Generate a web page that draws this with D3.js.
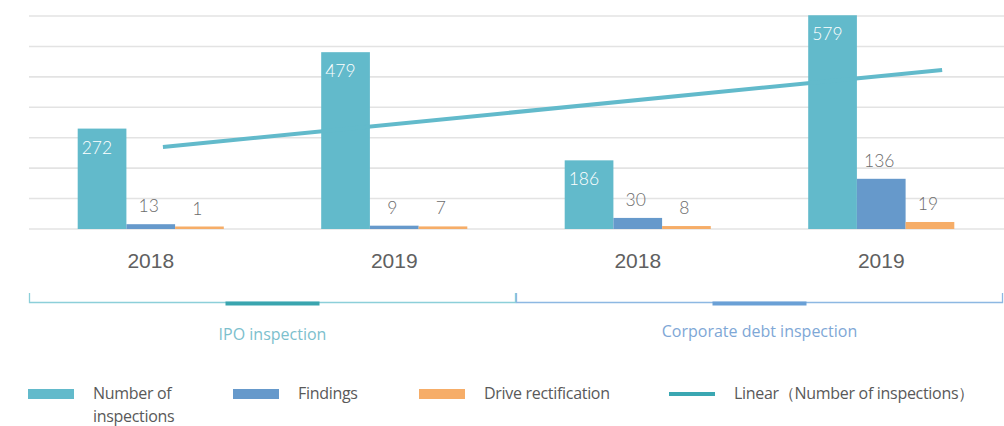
<!DOCTYPE html>
<html>
<head>
<meta charset="utf-8">
<script src="https://cdn.jsdelivr.net/npm/d3@7"></script>
<style>
  body { margin: 0; background: #fff; }
  svg { display: block; }
</style>
</head>
<body>
<script>
// chart values
const years = ['2018', '2019', '2018', '2019'];
const groupNames = ['IPO inspection', 'Corporate debt inspection'];
const groupOf = [0, 0, 1, 1];
const inspections = [272, 479, 186, 579];
const findings = [13, 9, 30, 136];
const rectification = [1, 7, 8, 19];
// trend line end points (category position, value)
const trendPos = [0.05, 3.25];
const trendVals = [222, 431];
const legendLabels = ['Number of|inspections', 'Findings', 'Drive rectification', 'Linear（Number of inspections）'];

const width = 1004, height = 426;
const colors = { ins: '#62bacb', fin: '#6699cb', rec: '#f6ad68' };

const svg = d3.select('body').append('svg')
  .attr('width', width)
  .attr('height', height);

const x = d3.scaleBand().domain(d3.range(years.length)).range([29, 1003]);
const xs = d3.scaleBand().domain(['ins', 'fin', 'rec']).range([0, x.bandwidth()]).paddingOuter(1);
const y = d3.scaleLinear().domain([0, 577]).range([229, 16]);

// gridlines
const gridTicks = d3.range(8).map(i => i * 577 / 7);
svg.append('g').selectAll('line')
  .data(gridTicks)
  .enter().append('line')
  .attr('x1', 29).attr('x2', width)
  .attr('y1', d => y(d)).attr('y2', d => y(d))
  .attr('stroke', '#e3e3e3')
  .attr('stroke-width', 1.6);

// bars (tiny values kept visible, as in the original)
const rows = years.map((yr, i) => ({ i, ins: inspections[i], fin: findings[i], rec: rectification[i] }));
const grp = svg.selectAll('g.cat')
  .data(rows)
  .enter().append('g')
  .attr('class', 'cat')
  .attr('transform', d => `translate(${x(d.i)},0)`);

const barH = v => Math.max(2.5, y(0) - y(v));

grp.selectAll('rect')
  .data(d => ['ins', 'fin', 'rec'].map(k => ({ k, v: d[k] })))
  .enter().append('rect')
  .attr('x', d => xs(d.k))
  .attr('width', xs.bandwidth())
  .attr('y', d => y(0) - barH(d.v))
  .attr('height', d => barH(d.v))
  .attr('fill', d => colors[d.k]);

// value labels
grp.selectAll('text.val')
  .data(d => ['ins', 'fin', 'rec'].map(k => ({ k, v: d[k] })))
  .enter().append('text')
  .attr('class', 'val')
  .attr('x', d => d.k === 'ins' ? xs(d.k) + 4 : xs(d.k) + xs.bandwidth() / 2 - 2)
  .attr('y', d => d.k === 'ins' ? y(d.v) + 25 : y(0) - barH(d.v) - 12)
  .attr('text-anchor', d => d.k === 'ins' ? 'start' : 'middle')
  .attr('fill', d => d.k === 'ins' ? '#ffffff' : '#6b6b6b')
  .style('font-family', 'Lato, "Open Sans", sans-serif')
  .style('font-weight', 300)
  .style('font-size', '17.5px')
  .text(d => d.v);

// trend line
const xt = d3.scaleLinear()
  .domain([0, years.length - 1])
  .range([x(0) + x.bandwidth() / 2, x(years.length - 1) + x.bandwidth() / 2]);
svg.append('line')
  .attr('x1', xt(trendPos[0])).attr('y1', y(trendVals[0]))
  .attr('x2', xt(trendPos[1])).attr('y2', y(trendVals[1]))
  .attr('stroke', '#62bacb')
  .attr('stroke-width', 4);

// year labels
svg.selectAll('text.year')
  .data(years)
  .enter().append('text')
  .attr('class', 'year')
  .attr('x', (d, i) => x(i) + x.bandwidth() / 2)
  .attr('y', 268)
  .attr('text-anchor', 'middle')
  .attr('fill', '#606060')
  .style('font-family', '"Liberation Sans", Arial, sans-serif')
  .style('font-size', '21px')
  .text(d => d);

// group brackets
const bracketCol = ['#8ccfd9', '#8db8e2'];
const markCol = ['#3aa5af', '#6aa0d6'];
const labelCol = ['#7cc0cd', '#7ea7d6'];
groupNames.forEach((name, g) => {
  const idx = d3.range(years.length).filter(i => groupOf[i] === g);
  const x0 = x(idx[0]);
  const x1 = x(idx[idx.length - 1]) + x.bandwidth();
  const cx = (x0 + x1) / 2;
  const b = svg.append('g');
  b.append('path')
    .attr('d', `M${x0 + 0.5},293V302.5H${x1 - 0.5}V293`)
    .attr('fill', 'none')
    .attr('stroke', bracketCol[g])
    .attr('stroke-width', 1.3);
  b.append('rect')
    .attr('x', cx - 47).attr('y', 301.5)
    .attr('width', 94).attr('height', 4)
    .attr('fill', markCol[g]);
  b.append('text')
    .attr('x', cx).attr('y', g === 0 ? 340 : 337)
    .attr('text-anchor', 'middle')
    .attr('fill', labelCol[g])
    .style('font-family', '"Open Sans", sans-serif')
    .style('font-size', '16px')
    .text(name);
});

// legend
const legendX = [28, 233, 419, 669];
const legendCol = [colors.ins, colors.fin, colors.rec, '#3aa7b2'];
const leg = svg.selectAll('g.leg')
  .data(legendLabels)
  .enter().append('g')
  .attr('class', 'leg')
  .attr('transform', (d, i) => `translate(${legendX[i]},0)`);

leg.append('rect')
  .attr('x', 0)
  .attr('y', (d, i) => i === 3 ? 392 : 389)
  .attr('width', 46)
  .attr('height', (d, i) => i === 3 ? 4 : 10)
  .attr('fill', (d, i) => legendCol[i]);

leg.append('text')
  .attr('x', 65)
  .attr('y', 399)
  .attr('fill', '#595959')
  .style('font-family', '"Open Sans", sans-serif')
  .style('font-size', '16px')
  .style('letter-spacing', '-0.3px')
  .selectAll('tspan')
  .data(d => d.split('|'))
  .enter().append('tspan')
  .attr('x', 65)
  .attr('dy', (d, i) => i === 0 ? 0 : 23)
  .text(d => d);
</script>
</body>
</html>
